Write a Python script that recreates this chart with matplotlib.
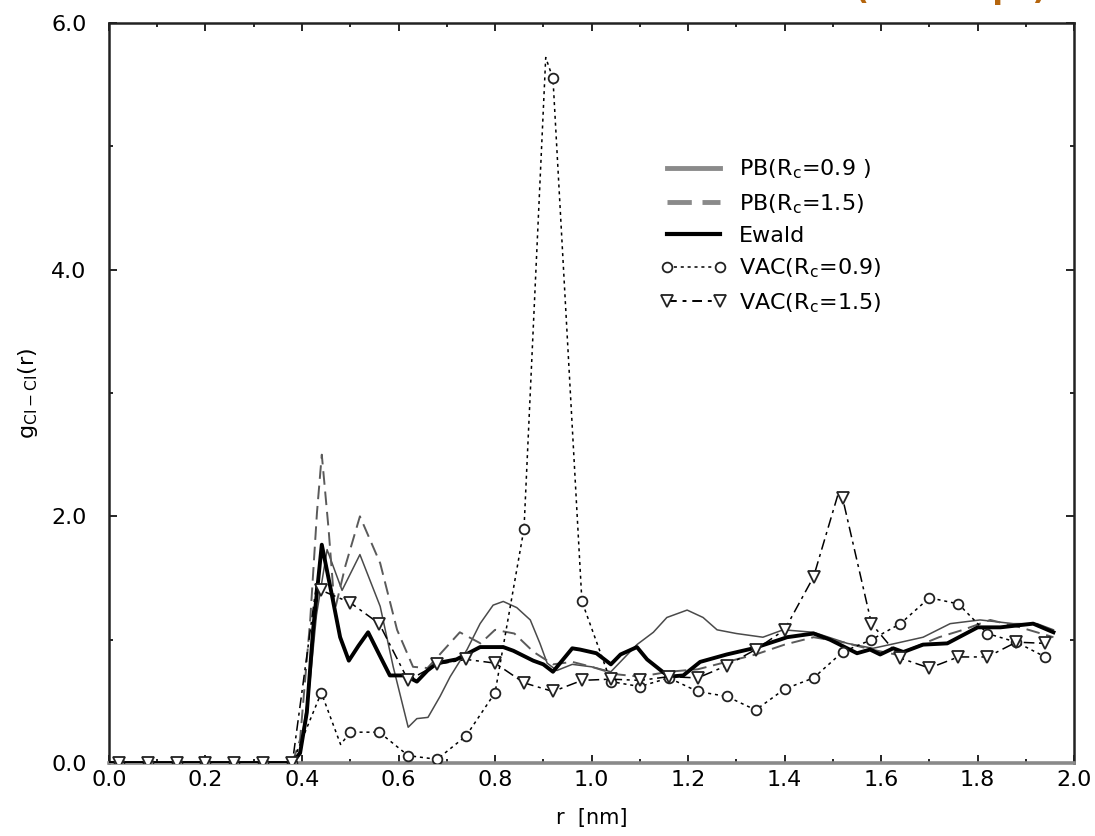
import matplotlib
matplotlib.use("Agg")
import matplotlib.pyplot as plt
from matplotlib.lines import Line2D
from matplotlib.ticker import MultipleLocator

plt.rcParams['font.family'] = ['DejaVu Sans']

# ---- data ----
ewald_r = [0.0, 0.38, 0.396, 0.41, 0.423, 0.441, 0.46, 0.479, 0.497, 0.517, 0.537, 0.56, 0.582,
           0.614, 0.638, 0.66, 0.68, 0.72, 0.769, 0.817, 0.838, 0.879, 0.90, 0.92, 0.96, 0.976,
           1.01, 1.04, 1.06, 1.094, 1.115, 1.16, 1.19, 1.225, 1.28, 1.335, 1.39, 1.405, 1.46,
           1.494, 1.55, 1.577, 1.598, 1.625, 1.646, 1.687, 1.737, 1.80, 1.847, 1.915, 1.957]
ewald_g = [0, 0, 0.08, 0.41, 1.08, 1.77, 1.40, 1.02, 0.83, 0.95, 1.06, 0.88, 0.71,
           0.71, 0.66, 0.75, 0.81, 0.84, 0.94, 0.94, 0.91, 0.83, 0.80, 0.74, 0.93, 0.92,
           0.89, 0.80, 0.88, 0.94, 0.84, 0.70, 0.71, 0.82, 0.88, 0.93, 1.00, 1.02, 1.05,
           1.00, 0.89, 0.92, 0.88, 0.93, 0.90, 0.96, 0.97, 1.10, 1.10, 1.13, 1.06]

pb09_r = [0.0, 0.38, 0.396, 0.415, 0.43, 0.452, 0.483, 0.52, 0.562, 0.589, 0.62, 0.638, 0.661,
          0.686, 0.707, 0.742, 0.769, 0.796, 0.817, 0.845, 0.873, 0.893, 0.908, 0.928, 0.96,
          1.0, 1.04, 1.094, 1.128, 1.156, 1.198, 1.231, 1.26, 1.30, 1.355, 1.397, 1.46, 1.53,
          1.583, 1.63, 1.687, 1.743, 1.805, 1.874, 1.923, 1.957]
pb09_g = [0, 0, 0.10, 0.60, 1.20, 1.73, 1.40, 1.69, 1.27, 0.78, 0.29, 0.36, 0.37,
          0.54, 0.70, 0.92, 1.13, 1.28, 1.31, 1.26, 1.16, 0.97, 0.81, 0.75, 0.80,
          0.78, 0.74, 0.96, 1.06, 1.18, 1.24, 1.18, 1.08, 1.05, 1.02, 1.08, 1.06, 0.97,
          0.93, 0.97, 1.02, 1.13, 1.16, 1.13, 1.13, 1.08]

pb15_r = [0.0, 0.38, 0.396, 0.417, 0.431, 0.441, 0.455, 0.468, 0.49, 0.52, 0.562, 0.597, 0.63,
          0.66, 0.69, 0.727, 0.77, 0.80, 0.84, 0.88, 0.92, 0.96, 1.0, 1.05, 1.1, 1.16, 1.22,
          1.28, 1.34, 1.40, 1.46, 1.52, 1.58, 1.63, 1.67, 1.72, 1.77, 1.826, 1.888, 1.957]
pb15_g = [0, 0, 0.19, 1.16, 2.03, 2.50, 1.90, 1.24, 1.60, 2.00, 1.62, 1.08, 0.78,
          0.77, 0.90, 1.06, 0.97, 1.08, 1.05, 0.90, 0.80, 0.82, 0.78, 0.72, 0.70, 0.74, 0.76,
          0.82, 0.88, 0.96, 1.02, 0.98, 0.92, 0.88, 0.94, 1.02, 1.08, 1.16, 1.10, 1.02]

vac09_r = [0.02, 0.08, 0.14, 0.20, 0.26, 0.32, 0.38, 0.44, 0.48, 0.50, 0.56, 0.62, 0.68, 0.74,
           0.80, 0.86, 0.905, 0.92, 0.98, 1.04, 1.10, 1.16, 1.22, 1.28, 1.34, 1.40, 1.46,
           1.52, 1.58, 1.64, 1.70, 1.76, 1.82, 1.88, 1.94]
vac09_g = [0, 0, 0, 0, 0, 0, 0, 0.57, 0.15, 0.25, 0.25, 0.06, 0.03, 0.22,
           0.57, 1.90, 5.72, 5.55, 1.31, 0.66, 0.62, 0.69, 0.58, 0.54, 0.43, 0.60, 0.69,
           0.90, 1.00, 1.13, 1.34, 1.29, 1.05, 0.98, 0.86]
vac09_marked = [True] * 8 + [False] + [True] * 7 + [False] + [True] * 18

vac15_r = [0.02, 0.08, 0.14, 0.20, 0.26, 0.32, 0.38, 0.43, 0.44, 0.50, 0.56, 0.62, 0.68, 0.74,
           0.80, 0.86, 0.92, 0.98, 1.04, 1.10, 1.16, 1.22, 1.28, 1.34, 1.40, 1.46,
           1.51, 1.52, 1.58, 1.64, 1.70, 1.76, 1.82, 1.88, 1.94]
vac15_g = [0, 0, 0, 0, 0, 0, 0, 1.45, 1.40, 1.30, 1.13, 0.67, 0.80, 0.84,
           0.81, 0.65, 0.58, 0.67, 0.68, 0.67, 0.70, 0.69, 0.79, 0.92, 1.08, 1.51,
           2.17, 2.15, 1.13, 0.85, 0.77, 0.86, 0.86, 0.98, 0.97]
vac15_marked = [True] * 7 + [False] + [True] * 18 + [False] + [True] * 8

labels = ["PB(R$_\\mathregular{c}$=0.9 )", "PB(R$_\\mathregular{c}$=1.5)", "Ewald",
          "VAC(R$_\\mathregular{c}$=0.9)", "VAC(R$_\\mathregular{c}$=1.5)"]
xtick_labels = ["0.0", "0.2", "0.4", "0.6", "0.8", "1.0", "1.2", "1.4", "1.6", "1.8", "2.0"]
ytick_labels = ["0.0", "2.0", "4.0", "6.0"]

# ---- figure ----
fig = plt.figure(figsize=(10.95, 8.36), dpi=100)
ax = fig.add_axes([0.0995, 0.0873, 0.8815, 0.8852])

ax.plot(pb09_r, pb09_g, color='#4a4a4a', lw=1.1, zorder=2)
ax.plot(pb15_r, pb15_g, color='#5a5a5a', lw=1.4, ls=(0, (7, 3.5)), zorder=2)
ax.plot(ewald_r, ewald_g, color='black', lw=2.8, zorder=3)
ax.plot(vac09_r, vac09_g, color='black', lw=1.1, ls=(0, (2, 2.5)), marker='o',
        markevery=vac09_marked, ms=7, mfc='white', mec='#222222', mew=1.3, zorder=4)
ax.plot(vac15_r, vac15_g, color='black', lw=1.1, ls=(0, (7, 3, 2, 3)), marker='v',
        markevery=vac15_marked, ms=8, mfc='white', mec='#222222', mew=1.3, zorder=4)

ax.set_xlim(0, 2.0)
ax.set_ylim(0, 6.0)
ax.set_xticks([i * 0.2 for i in range(11)])
ax.set_xticklabels(xtick_labels)
ax.xaxis.set_minor_locator(MultipleLocator(0.1))
ax.set_yticks([0, 2, 4, 6])
ax.set_yticklabels(ytick_labels)
ax.yaxis.set_minor_locator(MultipleLocator(1.0))
ax.tick_params(which='both', direction='in', top=True, right=True, labelsize=16, width=1.2)
ax.tick_params(which='major', length=6)
ax.tick_params(axis='x', which='major', pad=5)
ax.tick_params(axis='y', which='major', pad=16)
ax.tick_params(which='minor', length=3)

for side in ['top', 'left', 'right']:
    ax.spines[side].set_linewidth(1.8)
    ax.spines[side].set_color('#222222')
ax.spines['bottom'].set_linewidth(2.6)
ax.spines['bottom'].set_color('#8a8a8a')

ax.set_xlabel("r  [nm]", fontsize=15, labelpad=13)
ax.set_ylabel("g$_\\mathregular{Cl-Cl}$(r)", fontsize=16, labelpad=8)

handles = [
    Line2D([], [], color='#8a8a8a', lw=3.5),
    Line2D([], [], color='#8a8a8a', lw=3.5, ls=(0, (5, 2.2))),
    Line2D([], [], color='black', lw=3.0),
    Line2D([], [], color='black', lw=1.1, ls=(0, (2, 2.5)), marker='o', ms=7,
           mfc='white', mec='#222222', mew=1.3),
    Line2D([], [], color='black', lw=1.4, ls=(0, (5, 3, 2, 3)), marker='v', ms=8,
           mfc='white', mec='#222222', mew=1.3),
]
leg = ax.legend(handles, labels, loc='upper left', bbox_to_anchor=(0.571, 0.818),
                frameon=False, fontsize=16, handlelength=3.0, handletextpad=0.55,
                labelspacing=0.48, borderpad=0, borderaxespad=0, numpoints=2)

fig.text(0.8685, 1.0015, "(Cl\u2013Cl 1 ps)", color='#b5650d', fontsize=22,
         fontweight='bold', ha='center', va='baseline')

fig.savefig("out.png", dpi=100)
